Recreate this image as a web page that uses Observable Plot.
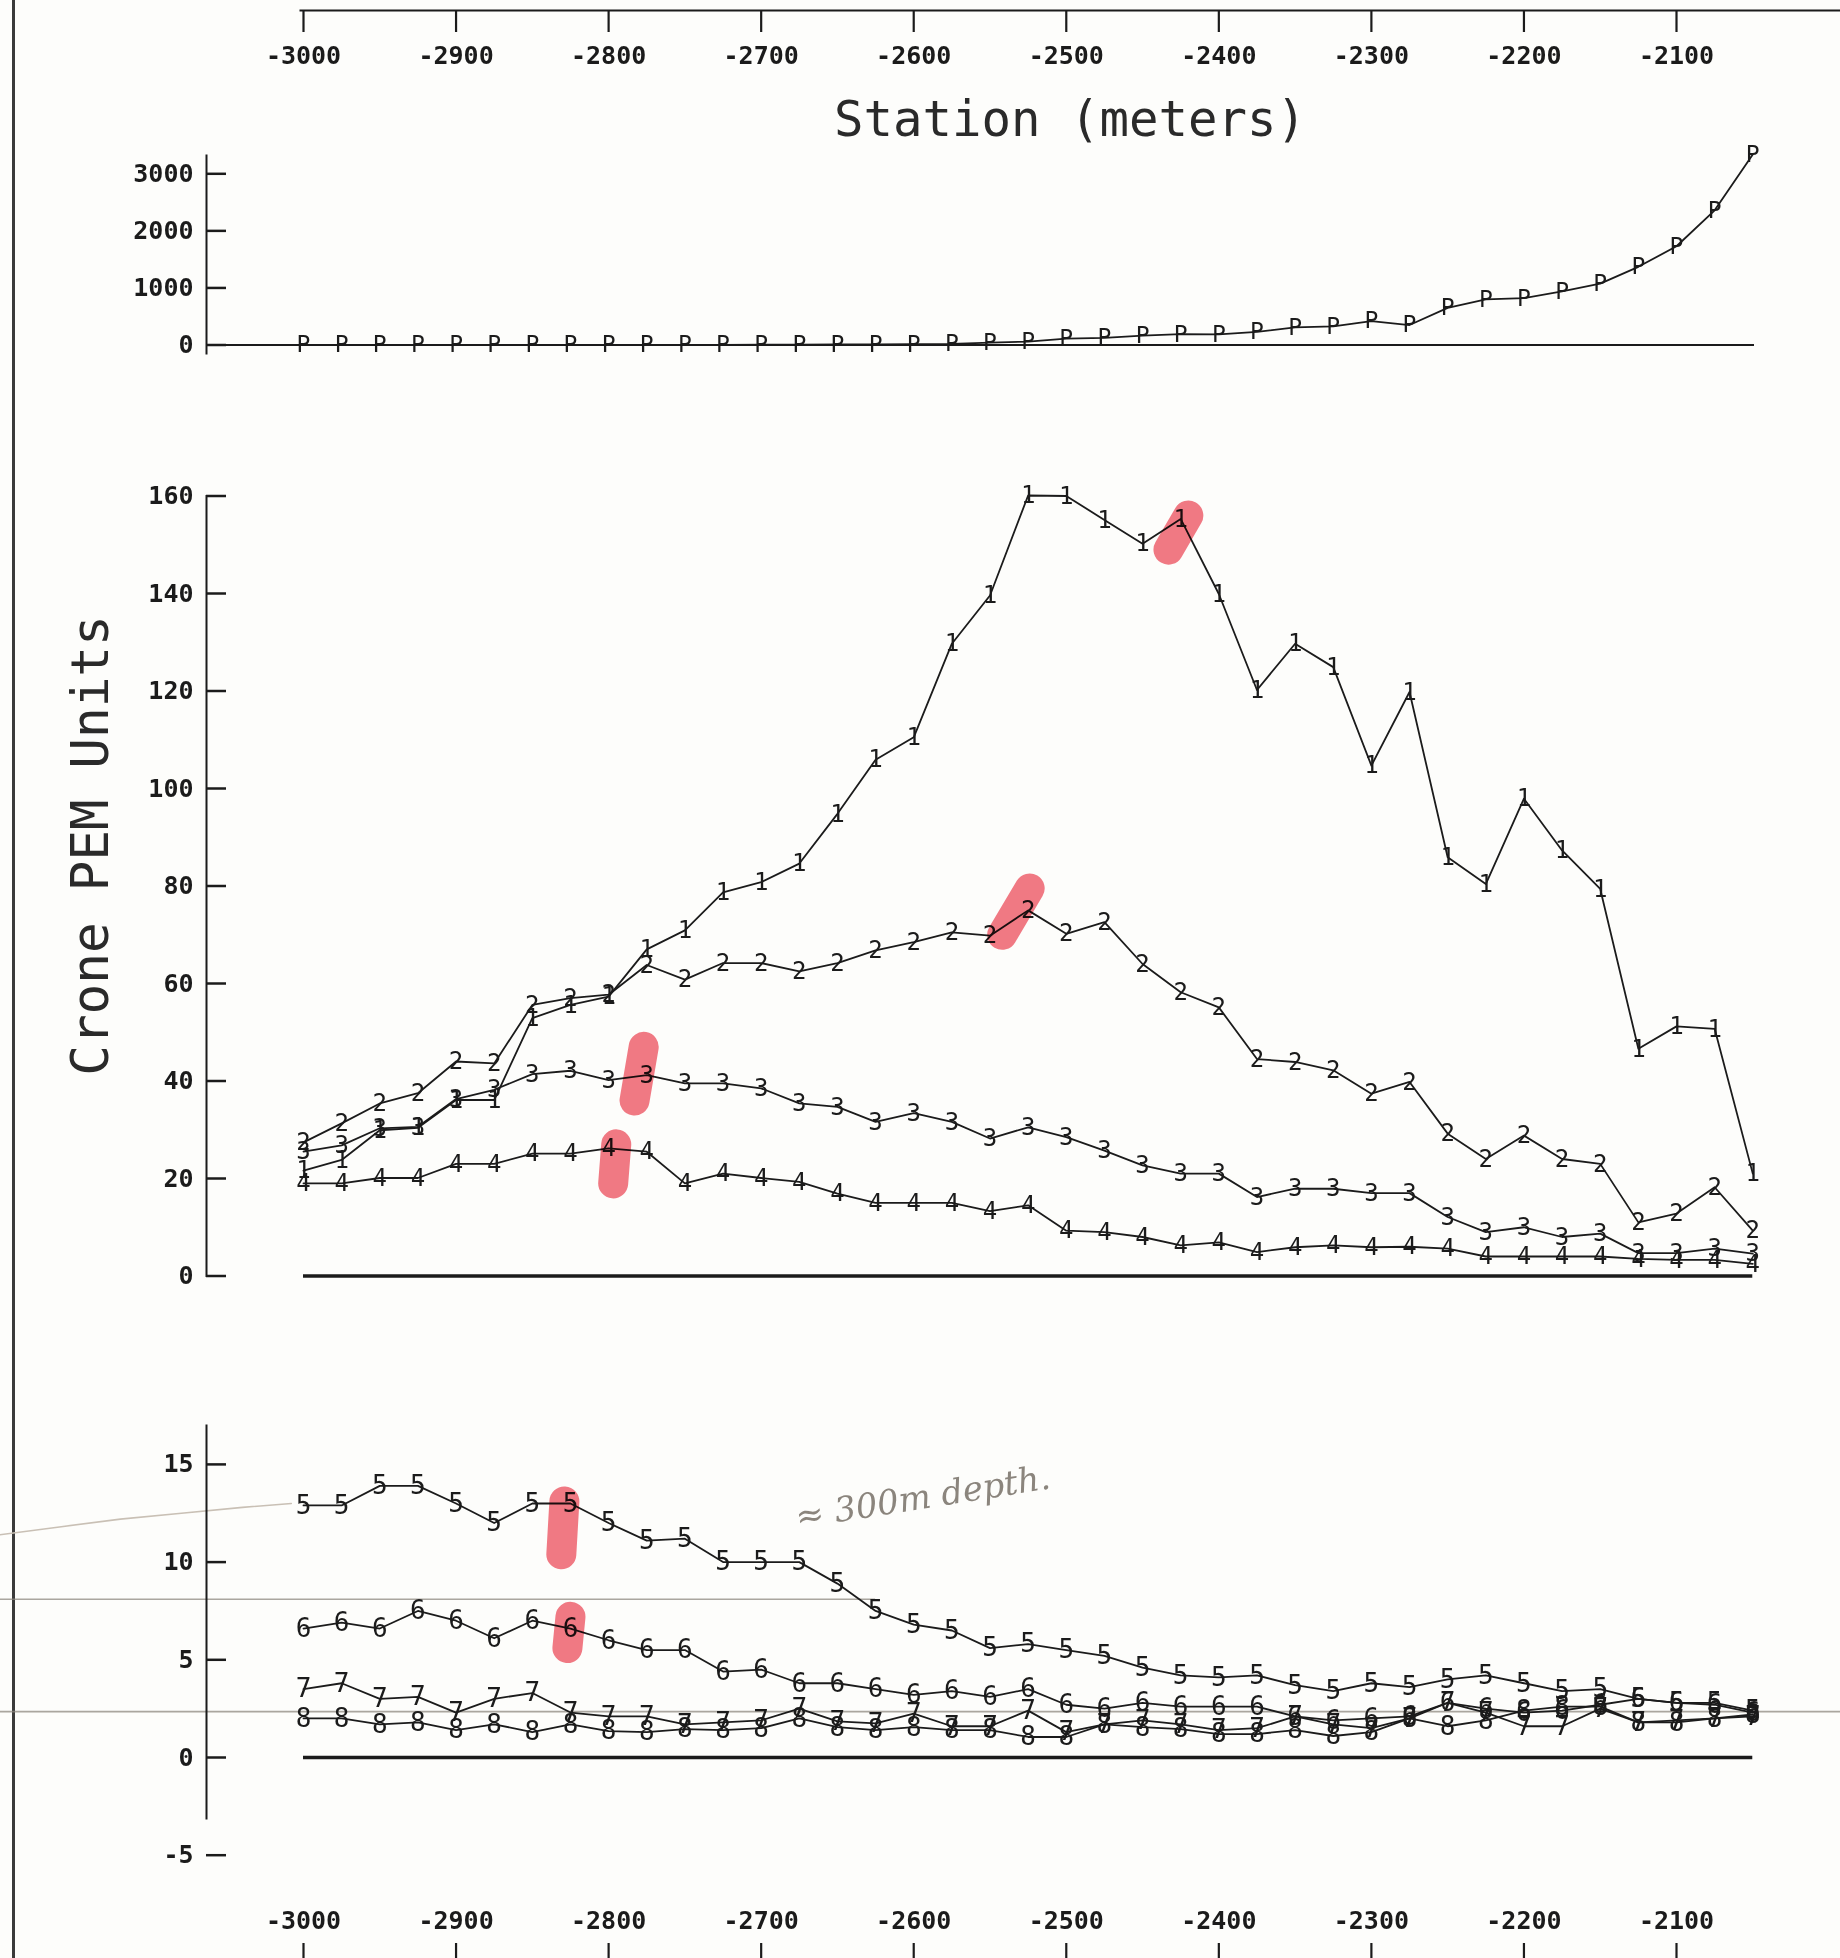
<!DOCTYPE html>
<html>
<head>
<meta charset="utf-8">
<script src="https://cdn.jsdelivr.net/npm/d3@7"></script>
<script src="https://cdn.jsdelivr.net/npm/@observablehq/plot@0.6"></script>
<style>
  html, body { margin: 0; padding: 0; background: #fdfdfb; }
  #page { position: relative; width: 1840px; height: 1958px; overflow: hidden; background: #fdfdfb;
          font-family: "DejaVu Sans Mono", monospace; color: #1b1b1b; }
  #edge { position: absolute; left: 12px; top: 0; width: 3px; height: 1958px; background: #3a3a3a; }
  #title { position: absolute; left: 1070px; top: 95px; transform: translateX(-50%);
           font-size: 49px; line-height: 49px; white-space: nowrap; color: #2a2a2a; }
  #ylabel { position: absolute; left: -210px; top: 820px; width: 600px; text-align: center;
            font-size: 51px; line-height: 51px; transform: rotate(-90deg); white-space: nowrap; color: #2a2a2a; }
</style>
</head>
<body>
<div id="page">
  <div id="edge"></div>
  <div id="title">Station (meters)</div>
  <div id="ylabel">Crone PEM Units</div>
</div>
<script>
// ---------------- data ----------------
const stations = [-3000,-2975,-2950,-2925,-2900,-2875,-2850,-2825,-2800,-2775,
                  -2750,-2725,-2700,-2675,-2650,-2625,-2600,-2575,-2550,-2525,
                  -2500,-2475,-2450,-2425,-2400,-2375,-2350,-2325,-2300,-2275,
                  -2250,-2225,-2200,-2175,-2150,-2125,-2100,-2075,-2050];
const xTicks = [-3000,-2900,-2800,-2700,-2600,-2500,-2400,-2300,-2200,-2100];

// top panel: channel P
const seriesP = [0,0,0,0,0,0,0,0,0,0,0,0,5,5,10,10,15,20,
                 40,60,110,125,165,190,185,230,310,325,420,350,650,800,820,940,1075,1370,1730,2360,3340];
const pTicks = [0,1000,2000,3000];

// middle panel: channels 1-4
const series1 = [21.6,23.8,29.9,30.4,36.1,36.1,52.9,55.6,57.3,67.0,
                 70.9,78.7,80.8,84.6,94.8,105.9,110.5,129.7,139.6,160.1,
                 160.0,155.1,150.2,155.3,139.9,120.2,129.7,124.9,104.7,119.8,
                 85.9,80.4,97.9,87.3,79.4,46.6,51.2,50.7,21.0];
const series2 = [27.4,31.3,35.4,37.5,44.0,43.6,55.6,57.0,57.7,63.8,
                 60.8,64.2,64.2,62.5,64.2,66.8,68.5,70.5,69.8,75.0,
                 70.2,72.6,64.0,58.2,55.1,44.5,43.9,42.2,37.4,39.8,
                 29.2,24.0,28.8,24.0,23.0,11.0,12.8,18.2,9.3];
const series3 = [25.5,26.8,30.3,30.6,36.3,38.2,41.4,42.1,40.2,41.2,
                 39.5,39.5,38.5,35.4,34.7,31.6,33.4,31.6,28.2,30.5,
                 28.5,25.7,22.7,21.0,21.0,16.2,17.9,17.9,17.0,17.0,
                 12.1,9.0,10.0,8.0,8.7,4.7,4.7,5.6,4.6];
const series4 = [19.0,19.0,20.1,20.1,23.0,23.0,25.1,25.1,26.2,25.5,
                 19.0,21.0,20.1,19.3,16.9,15.0,15.0,15.0,13.3,14.5,
                 9.3,9.0,8.0,6.3,6.9,4.9,5.9,6.3,5.9,6.0,
                 5.6,4.0,4.0,4.0,4.0,3.5,3.3,3.3,2.5];
const midTicks = [0,20,40,60,80,100,120,140,160];

// bottom panel: channels 5-8
const series5 = [12.9,12.9,13.9,13.9,13.0,12.0,13.0,13.0,12.0,11.1,
                 11.2,10.0,10.0,10.0,8.9,7.5,6.8,6.5,5.6,5.8,
                 5.5,5.2,4.6,4.2,4.1,4.2,3.7,3.4,3.8,3.6,
                 4.0,4.2,3.8,3.4,3.5,3.0,2.8,2.8,2.4];
const series6 = [6.6,6.9,6.6,7.5,7.0,6.1,7.0,6.6,6.0,5.5,
                 5.5,4.4,4.5,3.8,3.8,3.5,3.2,3.4,3.1,3.5,
                 2.7,2.5,2.8,2.6,2.6,2.6,2.1,1.9,2.0,2.1,
                 2.8,2.5,2.3,2.4,2.7,3.0,2.8,2.7,2.3];
const series7 = [3.5,3.8,3.0,3.1,2.3,3.0,3.3,2.3,2.1,2.1,
                 1.7,1.8,1.9,2.5,1.85,1.75,2.25,1.6,1.6,2.4,
                 1.3,1.7,1.9,1.7,1.4,1.5,2.1,1.7,1.5,2.0,
                 2.8,2.3,1.6,1.6,2.5,1.8,1.9,2.0,2.1];
const series8 = [2.0,2.0,1.7,1.8,1.4,1.7,1.3,1.7,1.35,1.3,
                 1.45,1.4,1.5,2.0,1.55,1.4,1.55,1.4,1.4,1.05,
                 1.05,1.7,1.55,1.45,1.2,1.2,1.4,1.1,1.3,2.0,
                 1.6,1.9,2.4,2.6,2.6,1.8,1.8,2.0,2.2];
const lowTicks = [-5,0,5,10,15];

// hand annotations on the scanned sheet
const marksMid = [
  {x1: -2433, y1: 149, x2: -2420, y2: 156},
  {x1: -2542, y1: 70,  x2: -2524, y2: 79.5},
  {x1: -2783, y1: 36,  x2: -2777, y2: 47},
  {x1: -2797, y1: 19,  x2: -2795, y2: 27}
];
const marksLow = [
  {x1: -2831, y1: 10.4, x2: -2829, y2: 13.1},
  {x1: -2827, y1: 5.6,  x2: -2825, y2: 7.2}
];
const scanLines = [
  {y: 8.1,  x1: -3200, x2: -2625},
  {y: 2.35, x1: -3200, x2: -1980}
];
const pencilStroke = [
  {station: -3199, value: 11.4}, {station: -3160, value: 11.8}, {station: -3120, value: 12.2},
  {station: -3080, value: 12.5}, {station: -3040, value: 12.8}, {station: -3008, value: 13.0}
];
const note = [{station: -2594, value: 13.3, text: "≈ 300m depth."}];

// ---------------- helpers ----------------
const INK = "#1b1b1b";
const W = 1840;
const xScale = {domain: [-3000, -2100], range: [303, 1676], axis: null};
const fmt = d => String(d);
const rowsOf = (list) => list.flatMap(([label, vals]) =>
  stations.map((s, i) => ({station: s, value: vals[i], series: label})));
const styleAt = top => ({position: "absolute", left: "0px", top: top + "px", overflow: "visible",
  background: "transparent", maxWidth: "none", fontFamily: '"DejaVu Sans Mono", monospace', color: INK});
const page = document.getElementById("page");
const tickFont = {fontSize: 25, fontWeight: "bold"};

// ---------------- top x axis ----------------
page.appendChild(Plot.plot({
  width: W, height: 80, marginTop: 0, marginBottom: 70, marginLeft: 300, marginRight: 0,
  style: styleAt(0),
  x: {domain: [-3000, -2100], range: [303, 1676]},
  marks: [
    Plot.frame({anchor: "bottom", stroke: INK, strokeWidth: 2}),
    Plot.axisX({anchor: "bottom", ticks: xTicks, tickFormat: fmt, tickSize: 22, tickPadding: 14,
                ...tickFont, strokeWidth: 2.2, label: null})
  ]
}));

// ---------------- panel P ----------------
const rowsP = rowsOf([["P", seriesP]]);
page.appendChild(Plot.plot({
  width: W, height: 230, marginTop: 15, marginBottom: 17, marginLeft: 206, marginRight: 80,
  style: styleAt(140),
  x: xScale,
  y: {domain: [0, 3000], range: [204.5, 33.3]},
  marks: [
    Plot.frame({anchor: "left", stroke: INK, strokeWidth: 2}),
    Plot.axisY({ticks: pTicks, tickFormat: fmt, tickSize: 0, tickPadding: 13, ...tickFont, label: null}),
    Plot.tickY(pTicks, {y: d => d, insetRight: 1554 - 20, stroke: INK, strokeWidth: 2.5}),
    Plot.ruleY([0], {insetRight: 6, stroke: INK, strokeWidth: 2.2}),
    Plot.line(rowsP, {x: "station", y: "value", z: "series", stroke: INK, strokeWidth: 1.8}),
    Plot.text(rowsP, {x: "station", y: "value", text: "series", fontSize: 23, fill: INK})
  ]
}));

// ---------------- middle panel (1-4) ----------------
const rowsMid = rowsOf([["1", series1], ["2", series2], ["3", series3], ["4", series4]]);
page.appendChild(Plot.plot({
  width: W, height: 830, marginTop: 25.5, marginBottom: 24.5, marginLeft: 206, marginRight: 80,
  style: styleAt(470),
  x: xScale,
  y: {domain: [0, 160], range: [805.5, 25.5]},
  marks: [
    Plot.frame({anchor: "left", stroke: INK, strokeWidth: 2}),
    Plot.axisY({ticks: midTicks, tickFormat: fmt, tickSize: 0, tickPadding: 13, ...tickFont, label: null}),
    Plot.tickY(midTicks, {y: d => d, insetRight: 1554 - 20, stroke: INK, strokeWidth: 2.5}),
    Plot.ruleY([0], {x1: () => stations[0], x2: () => stations[stations.length - 1], stroke: INK, strokeWidth: 3.5}),
    Plot.line(rowsMid, {x: "station", y: "value", z: "series", stroke: INK, strokeWidth: 1.8}),
    Plot.text(rowsMid, {x: "station", y: "value", text: "series", fontSize: 24, fill: INK}),
    Plot.link(marksMid, {x1: "x1", y1: "y1", x2: "x2", y2: "y2", stroke: "#f06874", strokeOpacity: 0.88,
                         strokeWidth: 30, strokeLinecap: "round", mixBlendMode: "multiply"})
  ]
}));

// ---------------- bottom panel (5-8) ----------------
const rowsLow = rowsOf([["5", series5], ["6", series6], ["7", series7], ["8", series8]]);
page.appendChild(Plot.plot({
  width: W, height: 480, marginTop: 25, marginBottom: 62, marginLeft: 206, marginRight: 80,
  style: styleAt(1400),
  x: xScale,
  y: {domain: [0, 15], range: [357, 63.9]},
  marks: [
    Plot.ruleY(scanLines, {y: "y", x1: "x1", x2: "x2", stroke: "#8e8880", strokeOpacity: 0.75, strokeWidth: 1.6}),
    Plot.line(pencilStroke, {x: "station", y: "value", stroke: "#c9c0b5", strokeWidth: 1.6}),
    Plot.frame({anchor: "left", stroke: INK, strokeWidth: 2}),
    Plot.axisY({ticks: lowTicks, tickFormat: fmt, tickSize: 0, tickPadding: 13, ...tickFont, label: null}),
    Plot.tickY(lowTicks, {y: d => d, insetRight: 1554 - 20, stroke: INK, strokeWidth: 2.5}),
    Plot.ruleY([0], {x1: () => stations[0], x2: () => stations[stations.length - 1], stroke: INK, strokeWidth: 3.5}),
    Plot.line(rowsLow, {x: "station", y: "value", z: "series", stroke: INK, strokeWidth: 1.8}),
    Plot.text(rowsLow, {x: "station", y: "value", text: "series", fontSize: 26, fill: INK}),
    Plot.text(note, {x: "station", y: "value", text: "text", rotate: -9, fontSize: 34, fill: "#8b857d",
                     fontFamily: '"DejaVu Serif", serif', fontStyle: "italic"}),
    Plot.link(marksLow, {x1: "x1", y1: "y1", x2: "x2", y2: "y2", stroke: "#f06874", strokeOpacity: 0.88,
                         strokeWidth: 30, strokeLinecap: "round", mixBlendMode: "multiply"})
  ]
}));

// ---------------- bottom x axis ----------------
page.appendChild(Plot.plot({
  width: W, height: 78, marginTop: 63, marginBottom: 0, marginLeft: 206, marginRight: 80,
  style: styleAt(1880),
  x: xScale,
  marks: [
    Plot.ruleX(xTicks, {x: d => d, stroke: INK, strokeWidth: 2.2}),
    Plot.text(xTicks, {x: d => d, text: fmt, frameAnchor: "top", dy: -32, ...tickFont, fill: INK})
  ]
}));
</script>
</body>
</html>
